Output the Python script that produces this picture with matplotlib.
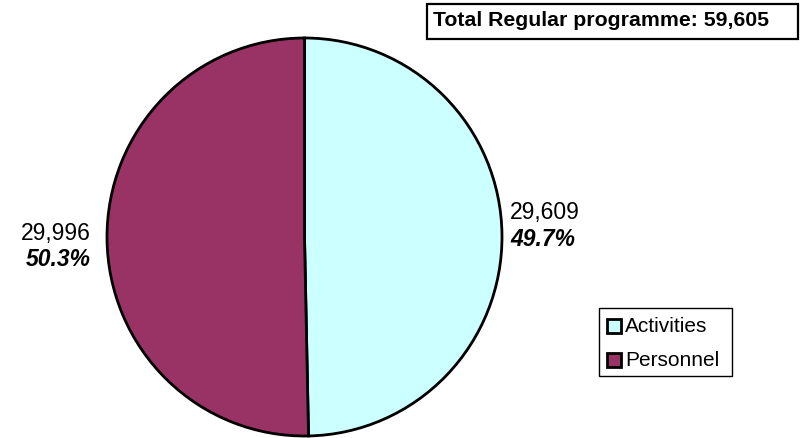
import matplotlib
matplotlib.use("Agg")
import matplotlib.pyplot as plt
from matplotlib.patches import Rectangle

categories = ["Activities", "Personnel"]
values = [29609, 29996]
colors = ["#CCFFFF", "#993366"]
total_label = "Total Regular programme: 59,605"

plt.rcParams['font.family'] = ['Liberation Sans', 'DejaVu Sans']

W, H = 804, 438
fig = plt.figure(figsize=(W / 100, H / 100), dpi=100)

def fx(px):
    return px / W

def fy(py):
    return 1 - py / H

# pie axes: circle spanning x 107..502, y 38..436 (pixels from top-left)
left, right, top, bottom = 107, 502, 38, 436
ax = fig.add_axes([fx(left), fy(bottom), (right - left) / W, (bottom - top) / H])
wedges, _ = ax.pie(values, colors=colors, startangle=90, counterclock=False,
                   wedgeprops=dict(edgecolor="black", linewidth=2))
ax.set_aspect('auto')
ax.set_xlim(-1, 1)
ax.set_ylim(-1, 1)
ax.axis('off')

total = sum(values)
# value labels
fig.text(fx(510), fy(213), f"{values[0]:,}", fontsize=16.5, ha='left', va='center')
fig.text(fx(510), fy(240), f"{values[0] / total * 100:.1f}%", fontsize=16.5,
         ha='left', va='center', fontweight='bold', fontstyle='italic')
fig.text(fx(91), fy(233), f"{values[1]:,}", fontsize=16.5, ha='right', va='center')
fig.text(fx(91), fy(259), f"{values[1] / total * 100:.1f}%", fontsize=16.5,
         ha='right', va='center', fontweight='bold', fontstyle='italic')

# title box
fig.patches.append(Rectangle((fx(427), fy(39)), (798 - 427) / W, (39 - 4) / H,
                             transform=fig.transFigure, facecolor='white',
                             edgecolor='black', linewidth=1.6))
fig.text(fx(433), fy(21), total_label, fontsize=15.3, fontweight='bold',
         ha='left', va='center')

# legend (drawn manually to match the reference box)
fig.patches.append(Rectangle((fx(599), fy(376)), (732 - 599) / W, (376 - 308) / H,
                             transform=fig.transFigure, facecolor='white',
                             edgecolor='black', linewidth=1.0))
row_y = [326, 360]
for cat, col, ry in zip(categories, colors, row_y):
    fig.patches.append(Rectangle((fx(607), fy(ry + 7)), 14 / W, 14 / H,
                                 transform=fig.transFigure, facecolor=col,
                                 edgecolor='black', linewidth=2))
    fig.text(fx(625), fy(ry), cat, fontsize=15, ha='left', va='center')

fig.savefig("out.png", dpi=100)
